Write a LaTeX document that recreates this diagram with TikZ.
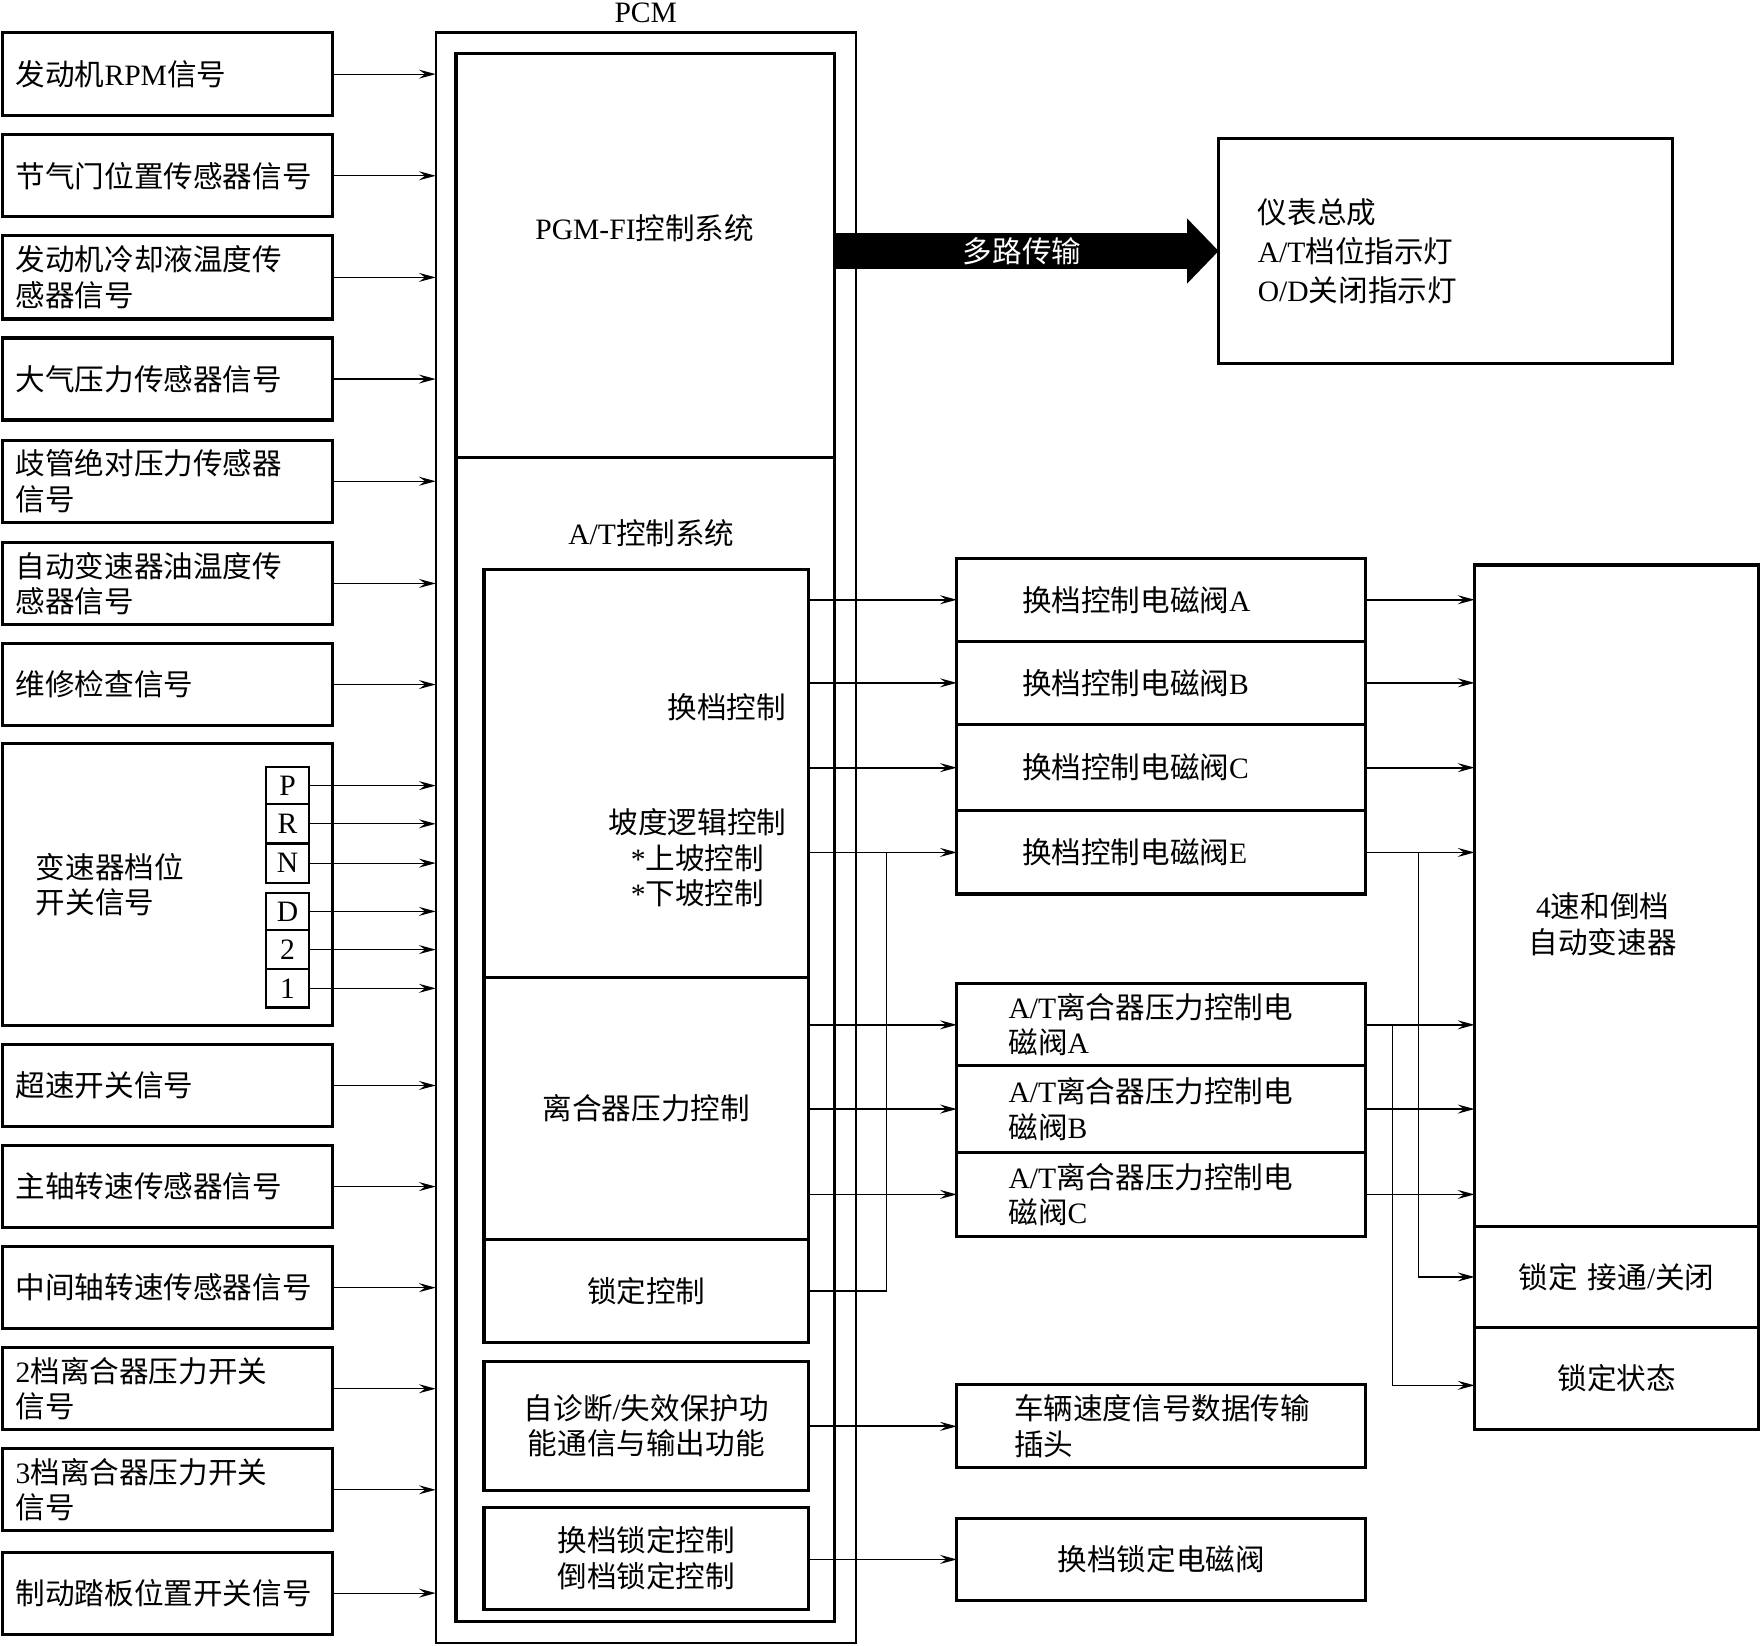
\documentclass[tikz,border=0pt]{standalone}
\usepackage{fontspec}
\setmainfont{Liberation Serif}
\newfontfamily\latinf{Liberation Serif}
\newfontfamily\cjkf{Noto Sans CJK SC}
\usetikzlibrary{arrows.meta,calc}
% automatic switching between Latin and CJK fonts
\XeTeXinterchartokenstate=1
\newXeTeXintercharclass\CJKcls
\newcount\cjkc
\cjkc="4E00
\loop\XeTeXcharclass\cjkc=\CJKcls\advance\cjkc by 1 \ifnum\cjkc<"A000 \repeat
\XeTeXinterchartoks 0 \CJKcls = {\cjkf}
\XeTeXinterchartoks 4095 \CJKcls = {\cjkf}
\XeTeXinterchartoks \CJKcls 0 = {\latinf}
\XeTeXinterchartoks \CJKcls 4095 = {\latinf}
\newcommand\dfont{\fontsize{15}{18}\selectfont}
\newcommand\dfontB{\fontsize{15}{19.8}\selectfont}
\tikzset{
  box/.style={draw, line width=1.6pt, inner sep=0pt, outer sep=0pt, font=\dfont, align=center},
  lbl/.style={inner sep=0pt, outer sep=0pt, font=\dfont},
  arr/.style={-{Stealth[length=3mm,width=1.6mm,inset=1.1mm]}, line width=0.6pt},
  arrB/.style={-{Stealth[length=3mm,width=1.6mm,inset=1.1mm]}, line width=0.9pt},
  thinl/.style={line width=0.6pt}
}
% \bx[opts]{name}{x1}{y1}{x2}{y2}{pad}{text}
\newcommand\bx[8][]{%
  \pgfmathsetmacro\bw{(#5-#3)*0.02}%
  \pgfmathsetmacro\bh{(#6-#4)*0.02}%
  \pgfmathsetmacro\tw{(#5-#3-2*#7)*0.02}%
  \node[box, minimum width=\bw cm, minimum height=\bh cm, text width=\tw cm, #1] (#2) at ({(#3+#5)/2},{(#4+#6)/2}) {#8};}
\begin{document}
\begin{tikzpicture}[x=0.02cm,y=-0.02cm]
\useasboundingbox (0,0) rectangle (1568,1465);
% ---------- PCM ----------
\bx[line width=1.1pt]{pcm}{388}{29}{762}{1463}{0}{}
\bx{inner}{406}{48}{743}{1444}{0}{}
\node[lbl] (pcmlbl) at (575,11) {PCM};
\coordinate (divy) at (0,407);
\draw[line width=1.6pt] (inner.west |- divy) -- (inner.east |- divy);
\node[lbl] (pgmtxt) at (574,203) {PGM-FI控制系统};
\node[lbl] (attxt) at (580,475) {A/T控制系统};
\bx{shiftctl}{431}{507}{720}{870}{0}{}
\node[lbl, anchor=east] (shtxt) at (700,630) {换档控制};
\node[lbl, align=center] (slope) at (621,764) {坡度逻辑控制\\*上坡控制\\*下坡控制};
\bx{clutch}{431}{870}{720}{1104}{10}{离合器压力控制}
\bx{lockctl}{431}{1104}{720}{1195}{10}{锁定控制}
\bx{diag}{431}{1212}{720}{1327}{8}{自诊断/失效保护功\\能通信与输出功能}
\bx{slock}{431}{1342}{720}{1433}{10}{换档锁定控制\\倒档锁定控制}
% ---------- inputs ----------
\bx[align=left]{in1}{2}{29}{296}{103}{12}{发动机RPM信号}
\bx[align=left]{in2}{2}{120}{296}{193}{12}{节气门位置传感器信号}
\bx[align=left]{in3}{2}{210}{296}{284}{12}{发动机冷却液温度传\\感器信号}
\bx[align=left]{in4}{2}{301}{296}{374}{12}{大气压力传感器信号}
\bx[align=left]{in5}{2}{392}{296}{465}{12}{歧管绝对压力传感器\\信号}
\bx[align=left]{in6}{2}{483}{296}{556}{12}{自动变速器油温度传\\感器信号}
\bx[align=left]{in7}{2}{573}{296}{646}{12}{维修检查信号}
\bx[align=left]{in8}{2}{662}{296}{913}{30}{变速器档位\\开关信号}
\bx[align=left]{in9}{2}{930}{296}{1003}{12}{超速开关信号}
\bx[align=left]{in10}{2}{1020}{296}{1093}{12}{主轴转速传感器信号}
\bx[align=left]{in11}{2}{1110}{296}{1183}{12}{中间轴转速传感器信号}
\bx[align=left]{in12}{2}{1200}{296}{1273}{12}{2档离合器压力开关\\信号}
\bx[align=left]{in13}{2}{1290}{296}{1363}{12}{3档离合器压力开关\\信号}
\bx[align=left]{in14}{2}{1382}{296}{1455}{12}{制动踏板位置开关信号}
\foreach \n in {in1,in2,in3,in4,in5,in6,in7,in9,in10,in11,in12,in13,in14}
  \draw[arr] (\n.east) -- (\n.east -| pcm.west);
% PRND21 selector
\bx[line width=1.1pt]{gP}{237}{683}{275}{716}{0}{P}
\bx[line width=1.1pt]{gR}{237}{716}{275}{751}{0}{R}
\bx[line width=1.1pt]{gN}{237}{751}{275}{786}{0}{N}
\bx[line width=1.1pt]{gD}{237}{795}{275}{828}{0}{D}
\bx[line width=1.1pt]{g2}{237}{828}{275}{863}{0}{2}
\bx[line width=1.1pt]{g1}{237}{863}{275}{897}{0}{1}
\foreach \n in {gP,gR,gN,gD,g2,g1}
  \draw[arr] (\n.east) -- (\n.east -| pcm.west);
% ---------- instrument cluster ----------
\bx[align=left, font=\dfontB]{inst}{1085}{123}{1489}{324}{35}{仪表总成\\A/T档位指示灯\\O/D关闭指示灯}
\fill ($(inner.east |- inst.west)+(0,-16)$) -- ($(inst.west)+(-28,-16)$) -- ($(inst.west)+(-28,-29)$)
  -- (inst.west) -- ($(inst.west)+(-28,29)$) -- ($(inst.west)+(-28,16)$) -- ($(inner.east |- inst.west)+(0,16)$) -- cycle;
\node[lbl, text=white] (mux) at (910,224) {多路传输};
% ---------- solenoids ----------
\bx[align=left]{sA}{852}{497}{1216}{571}{58}{换档控制电磁阀A}
\bx[align=left]{sB}{852}{571}{1216}{645}{58}{换档控制电磁阀B}
\bx[align=left]{sC}{852}{645}{1216}{722}{58}{换档控制电磁阀C}
\bx[align=left]{sE}{852}{722}{1216}{796}{58}{换档控制电磁阀E}
\bx[align=left]{cA}{852}{876}{1216}{949}{46}{A/T离合器压力控制电\\磁阀A}
\bx[align=left]{cB}{852}{949}{1216}{1026}{46}{A/T离合器压力控制电\\磁阀B}
\bx[align=left]{cC}{852}{1026}{1216}{1101}{46}{A/T离合器压力控制电\\磁阀C}
\bx[align=left]{vss}{852}{1233}{1216}{1307}{51}{车辆速度信号数据传输\\插头}
\bx{sls}{852}{1352}{1216}{1425}{10}{换档锁定电磁阀}
% ---------- transmission ----------
\bx{trans}{1313}{503}{1566}{1092}{10}{}
\node[lbl, align=center] (transtxt) at (1427,823) {4速和倒档\\自动变速器};
\bx{lockon}{1313}{1092}{1566}{1182}{10}{锁定 接通/关闭}
\bx{lockst}{1313}{1182}{1566}{1273}{10}{锁定状态}
% ---------- connectors ----------
\foreach \n in {sA,sB,sC,sE}
  \draw[arrB] (shiftctl.east |- \n.west) -- (\n.west);
\foreach \n in {cA,cB,cC}
  \draw[arrB] (clutch.east |- \n.west) -- (\n.west);
\foreach \n in {sA,sB,sC,sE,cA,cB,cC}
  \draw[arrB] (\n.east) -- (\n.east -| trans.west);
\draw[arrB] (diag.east |- vss.west) -- (vss.west);
\draw[arr] (slock.east |- sls.west) -- (sls.west);
\path (sE.west) ++(-63,0) coordinate (jL);
\draw[thinl] (lockctl.east) -| (jL);
\path (sE.east) ++(47,0) coordinate (jE);
\draw[arr] (jE) |- (lockon.west);
\path (cA.east) ++(24,0) coordinate (jA);
\draw[arr] (jA) |- ($(lockst.west)+(0,6)$);
\end{tikzpicture}
\end{document}
